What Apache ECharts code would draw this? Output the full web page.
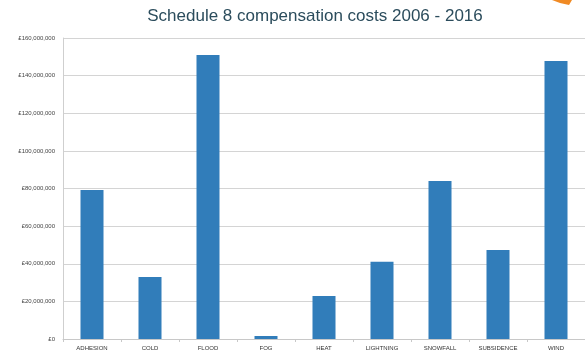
<!DOCTYPE html>
<html>
<head>
<meta charset="utf-8">
<script src="https://cdn.jsdelivr.net/npm/echarts@6/dist/echarts.min.js"></script>
<style>
  html, body { margin: 0; padding: 0; background: #fff; }
  #chart { width: 585px; height: 356px; }
</style>
</head>
<body>
<div id="chart"></div>
<script>
const categories = ['ADHESION', 'COLD', 'FLOOD', 'FOG', 'HEAT', 'LIGHTNING', 'SNOWFALL', 'SUBSIDENCE', 'WIND'];
const costs = [79200000, 33000000, 151000000, 1600000, 22900000, 41000000, 84000000, 47300000, 147800000];

const myChart = echarts.init(document.getElementById('chart'));

const fmt = (v) => '£' + v.toString().replace(/\B(?=(\d{3})+(?!\d))/g, ',');

const option = {
  animation: false,
  title: {
    text: 'Schedule 8 compensation costs 2006 - 2016',
    left: 310,
    textAlign: 'center',
    top: 3,
    textStyle: {
      color: '#2b4c5c',
      fontSize: 17,
      fontWeight: 'normal',
      fontFamily: 'Liberation Sans'
    }
  },
  grid: {
    left: 63,
    right: -10,
    top: 38,
    bottom: 17
  },
  xAxis: {
    type: 'category',
    data: categories,
    axisLine: { lineStyle: { color: '#c8c8c8' } },
    axisTick: { show: true, length: 3, lineStyle: { color: '#c8c8c8' } },
    axisLabel: { color: '#333', fontSize: 6, margin: 6, fontFamily: 'Liberation Sans' }
  },
  yAxis: {
    type: 'value',
    min: 0,
    max: 160000000,
    interval: 20000000,
    axisLine: { show: true, lineStyle: { color: '#cfcfcf' } },
    axisTick: { show: false },
    splitLine: { lineStyle: { color: '#d4d4d4' } },
    axisLabel: {
      color: '#444',
      fontSize: 6,
      margin: 8,
      fontFamily: 'Liberation Sans',
      formatter: fmt
    }
  },
  series: [
    {
      type: 'bar',
      data: costs,
      barWidth: 23,
      itemStyle: { color: '#317dba' }
    }
  ],
  graphic: [
    {
      type: 'polygon',
      shape: { points: [[552, 0], [572, 0], [569, 5], [560, 3]] },
      style: { fill: '#f08a24' }
    }
  ]
};

myChart.setOption(option);
</script>
</body>
</html>
